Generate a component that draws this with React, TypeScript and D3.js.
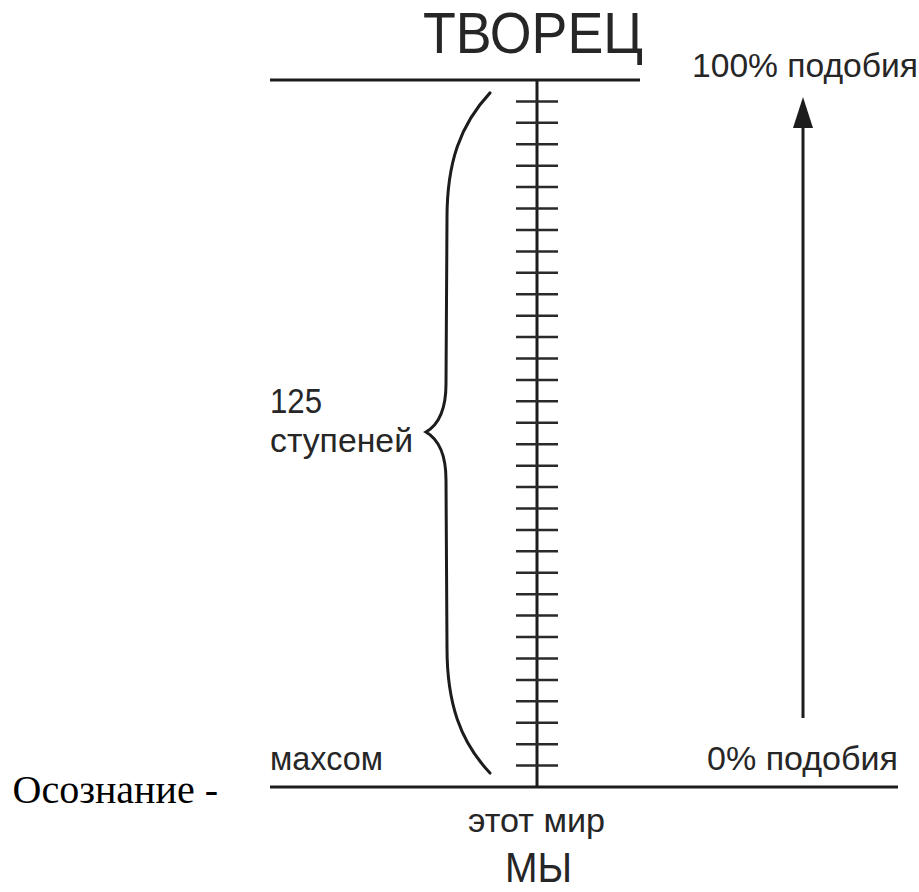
import * as React from "react";
import * as d3 from "d3";

// steps of the ladder between "мы" (0) and "творец" (33)
const STEP_DOMAIN: [number, number] = [0, 33];
const STEP_TICKS: number[] = [
  1, 2, 3, 4, 5, 6, 7, 8, 9, 10, 11, 12, 13, 14, 15, 16,
  17, 18, 19, 20, 21, 22, 23, 24, 25, 26, 27, 28, 29, 30, 31, 32,
];
const SIMILARITY_LABELS: string[] = ["0% подобия", "100% подобия"];
const BRACE_LABEL: string[] = ["125", "ступеней"];
const TOP_LABEL = "ТВОРЕЦ";
const BOTTOM_LABELS: string[] = ["этот мир", "МЫ"];
const LOW_LABEL = "махсом";
const SIDE_TEXT = "Осознание -";

const W = 919;
const H = 892;
const INK = "#1c1c1c";
const SANS = "'Liberation Sans', Arial, sans-serif";

export default function App() {
  const ref = React.useRef<SVGSVGElement | null>(null);

  React.useEffect(() => {
    if (!ref.current) return;
    const svg = d3.select(ref.current);
    svg.selectAll("*").remove();

    const y = d3.scaleLinear().domain(STEP_DOMAIN).range([787, 80]);
    const axisX = 537;
    const g = svg.append("g");

    // top and bottom horizontal lines
    g.append("line")
      .attr("x1", 270).attr("x2", 640)
      .attr("y1", y(STEP_DOMAIN[1])).attr("y2", y(STEP_DOMAIN[1]))
      .attr("stroke", INK).attr("stroke-width", 3);
    g.append("line")
      .attr("x1", 270).attr("x2", 898)
      .attr("y1", y(STEP_DOMAIN[0])).attr("y2", y(STEP_DOMAIN[0]))
      .attr("stroke", INK).attr("stroke-width", 3);

    // ladder
    g.append("line")
      .attr("x1", axisX).attr("x2", axisX)
      .attr("y1", y(STEP_DOMAIN[1])).attr("y2", y(STEP_DOMAIN[0]))
      .attr("stroke", INK).attr("stroke-width", 3);
    g.selectAll("line.tick")
      .data(STEP_TICKS)
      .join("line")
      .attr("class", "tick")
      .attr("x1", axisX - 21).attr("x2", axisX + 21)
      .attr("y1", (d) => y(d)).attr("y2", (d) => y(d))
      .attr("stroke", "#2a2a2a").attr("stroke-width", 2.5);

    // curly brace
    const top = y(32.4);
    const bot = y(0.65);
    const mid = 432;
    const p = d3.path();
    p.moveTo(490, top);
    p.bezierCurveTo(460, top + 32, 447, top + 70, 447, top + 125);
    p.lineTo(446, mid - 48);
    p.bezierCurveTo(446, mid - 22, 438, mid - 7, 426, mid);
    p.bezierCurveTo(438, mid + 7, 446, mid + 22, 446, mid + 48);
    p.lineTo(447, bot - 125);
    p.bezierCurveTo(447, bot - 70, 460, bot - 32, 490, bot);
    g.append("path")
      .attr("d", p.toString())
      .attr("fill", "none")
      .attr("stroke", INK)
      .attr("stroke-width", 3)
      .attr("stroke-linecap", "round");

    // arrow
    const ax = 803;
    g.append("line")
      .attr("x1", ax).attr("x2", ax)
      .attr("y1", 718).attr("y2", 120)
      .attr("stroke", INK).attr("stroke-width", 3);
    g.append("path")
      .attr("d", `M${ax},97 L${ax + 10},128 L${ax - 10},128 Z`)
      .attr("fill", INK);

    const text = (
      s: string, x: number, yy: number, size: number, len?: number,
      family = SANS, fill = "#262626", anchor = "start"
    ) => {
      const t = g.append("text")
        .text(s)
        .attr("x", x).attr("y", yy)
        .attr("font-family", family)
        .attr("font-size", size)
        .attr("fill", fill)
        .attr("text-anchor", anchor);
      if (len) t.attr("textLength", len).attr("lengthAdjust", "spacingAndGlyphs");
      return t;
    };

    text(TOP_LABEL, 423, 53, 57, 220);
    text(SIMILARITY_LABELS[1], 692, 77, 33, 226);
    text(SIMILARITY_LABELS[0], 707, 770, 33, 191);
    text(BRACE_LABEL[0], 270, 413, 35, 52);
    text(BRACE_LABEL[1], 270, 452, 34, 143);
    text(LOW_LABEL, 270, 770, 34, 113);
    text(BOTTOM_LABELS[0], 468, 832, 33, 137);
    text(BOTTOM_LABELS[1], 505, 882, 42, 67);
    text(SIDE_TEXT, 218, 803, 40, undefined, "'Liberation Serif', 'Times New Roman', serif", "#000", "end");
  }, []);

  return (
    <svg
      ref={ref}
      width={W}
      height={H}
      style={{ position: "absolute", left: 0, top: 0, background: "#fff" }}
    />
  );
}
